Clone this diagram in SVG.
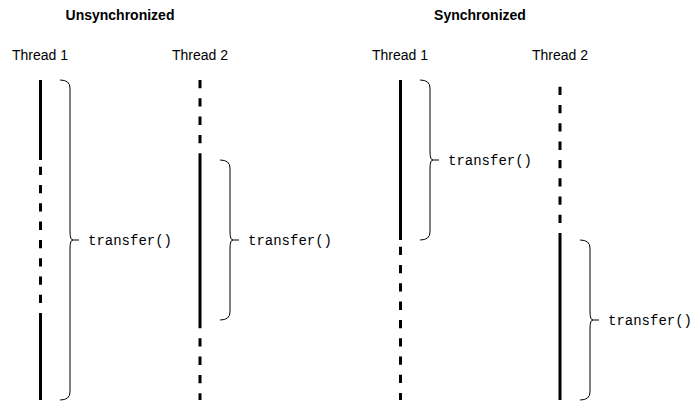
<svg xmlns="http://www.w3.org/2000/svg" width="700" height="403" viewBox="0 0 700 403">
<style>
.title{font-family:"Liberation Sans",Arial,sans-serif;font-size:14px;font-weight:bold;fill:#000;text-anchor:middle}
.lbl{font-family:"Liberation Sans",Arial,sans-serif;font-size:14px;fill:#000;text-anchor:middle}
.code{font-family:"Courier New","Liberation Mono",monospace;font-size:14px;fill:#000}
.solid{stroke:#000;stroke-width:3;fill:none}
.dash{stroke:#000;stroke-width:3;fill:none;stroke-dasharray:8.3 10}
.dashg{stroke:#000;stroke-width:3;fill:none;stroke-dasharray:8.3 10;stroke-dashoffset:11.6}
.brace{stroke:#000;stroke-width:1;fill:none}
</style>
<rect width="700" height="403" fill="#fff"/>
<g id="title-unsync"><text class="title" x="120" y="20">Unsynchronized</text></g>
<g id="title-sync"><text class="title" x="480" y="20">Synchronized</text></g>

<g id="unsync-thread1">
<text class="lbl" x="40" y="60">Thread 1</text>
<path class="solid" d="M40.5,80 V160"/>
<path class="dashg" d="M40.5,160 V320"/>
<path class="solid" d="M40.5,320 V400"/>
</g>
<g id="unsync-thread2">
<text class="lbl" x="200" y="60">Thread 2</text>
<path class="dash" d="M200,80 V160"/>
<path class="solid" d="M200,160 V320"/>
<path class="dash" d="M200,320 V400"/>
</g>
<g id="sync-thread1">
<text class="lbl" x="400" y="60">Thread 1</text>
<path class="solid" d="M400.5,80 V240"/>
<path class="dashg" d="M400.5,240 V400"/>
</g>
<g id="sync-thread2">
<text class="lbl" x="560" y="60">Thread 2</text>
<path class="dashg" d="M560,80 V240"/>
<path class="solid" d="M560,240 V400"/>
</g>

<g id="unsync-transfer1">
<path class="brace" d="M60,80 Q70,80 70,88 V232 Q70,240 73,240 H79 M73,240 Q70,240 70,248 V392 Q70,400 60,400"/>
<text class="code" x="88" y="244.5">transfer()</text>
</g>
<g id="unsync-transfer2">
<path class="brace" d="M220,160 Q230,160 230,168 V232 Q230,240 233,240 H239 M233,240 Q230,240 230,248 V312 Q230,320 220,320"/>
<text class="code" x="248" y="244.5">transfer()</text>
</g>
<g id="sync-transfer1">
<path class="brace" d="M420,80 Q430,80 430,88 V152 Q430,160 433,160 H439 M433,160 Q430,160 430,168 V232 Q430,240 420,240"/>
<text class="code" x="448" y="164.5">transfer()</text>
</g>
<g id="sync-transfer2">
<path class="brace" d="M580,240 Q590,240 590,248 V312 Q590,320 593,320 H599 M593,320 Q590,320 590,328 V392 Q590,400 580,400"/>
<text class="code" x="608" y="324.5">transfer()</text>
</g>
<g id="connectors"/>
</svg>
